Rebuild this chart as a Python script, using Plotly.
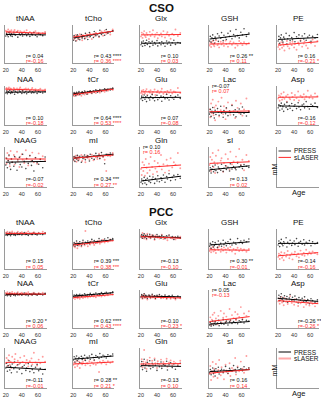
import plotly.graph_objects as go

W, H = 321, 400
FONT = "Liberation Sans, Arial, sans-serif"

AGES = [20, 21, 22, 23, 24, 25, 26, 27, 28, 30, 31, 32, 34, 35, 37, 38,
        40, 41, 43, 45, 46, 48, 50, 52, 53, 55, 57, 59, 61, 63, 66, 69]

NAMES = ["tNAA", "tCho", "Glx", "GSH", "PE",
         "NAA", "tCr", "Glu", "Lac", "Asp",
         "NAAG", "mI", "Gln", "sI"]

# ---------------- CSO (values in % of panel height) ----------------
CSO_TNAA_P = [71, 78, 74, 69, 80, 76, 72, 77, 70, 79, 75, 73, 81, 68, 76, 74, 78, 71, 75, 79, 72, 77, 70, 76, 74, 80, 73, 69, 77, 75, 72, 78]
CSO_TNAA_S = [85, 79, 83, 88, 80, 84, 81, 86, 78, 83, 87, 80, 82, 85, 79, 84, 81, 77, 83, 80, 86, 78, 82, 79, 76, 81, 84, 77, 80, 75, 79, 82]
CSO_TCHO_P = [60, 72, 65, 58, 70, 74, 63, 68, 61, 75, 66, 71, 64, 78, 69, 62, 80, 70, 74, 67, 83, 72, 77, 70, 86, 75, 80, 73, 88, 78, 82, 85]
CSO_TCHO_S = [70, 62, 68, 74, 59, 66, 71, 64, 76, 67, 60, 73, 69, 65, 75, 72, 68, 78, 63, 76, 71, 80, 74, 68, 79, 83, 72, 85, 77, 81, 75, 88]
CSO_GLX_P = [48, 55, 44, 58, 51, 46, 53, 60, 49, 56, 43, 52, 57, 47, 54, 50, 59, 45, 53, 48, 56, 51, 44, 58, 50, 55, 47, 53, 60, 49, 54, 52]
CSO_GLX_S = [70, 80, 66, 77, 84, 72, 68, 79, 74, 63, 82, 71, 76, 86, 69, 75, 80, 65, 73, 78, 70, 84, 67, 76, 81, 72, 64, 77, 74, 88, 71, 79]
CSO_GSH_P = [58, 70, 55, 66, 74, 60, 52, 68, 63, 77, 57, 71, 65, 80, 59, 73, 67, 62, 78, 70, 84, 64, 75, 69, 88, 72, 66, 81, 74, 90, 70, 79]
CSO_GSH_S = [46, 55, 42, 52, 58, 48, 44, 53, 60, 47, 51, 41, 56, 49, 54, 45, 59, 50, 43, 52, 57, 48, 54, 40, 51, 46, 58, 53, 47, 55, 49, 52]
CSO_PE_P = [58, 70, 52, 66, 74, 60, 55, 68, 63, 78, 50, 64, 72, 59, 67, 61, 80, 56, 69, 65, 74, 58, 71, 63, 77, 60, 68, 73, 57, 70, 66, 75]
CSO_PE_S = [42, 50, 36, 47, 55, 40, 52, 45, 33, 49, 58, 44, 38, 53, 47, 56, 41, 50, 35, 54, 48, 60, 43, 51, 57, 46, 39, 55, 52, 62, 45, 58]
CSO_NAA_P = [82, 87, 80, 86, 84, 89, 81, 85, 83, 88, 79, 86, 84, 82, 87, 85, 81, 88, 83, 86, 80, 84, 87, 82, 85, 83, 88, 81, 86, 84, 82, 85]
CSO_NAA_S = [92, 95, 89, 93, 96, 90, 94, 91, 88, 95, 92, 90, 94, 89, 93, 96, 91, 88, 92, 94, 90, 93, 87, 91, 95, 89, 92, 88, 90, 93, 87, 91]
CSO_TCR_P = [77, 83, 80, 75, 84, 79, 82, 86, 78, 81, 85, 80, 87, 83, 79, 86, 84, 88, 82, 87, 85, 90, 84, 88, 91, 86, 89, 93, 88, 92, 90, 95]
CSO_TCR_S = [80, 74, 78, 82, 76, 80, 77, 83, 79, 75, 84, 81, 78, 85, 82, 80, 86, 83, 81, 87, 84, 82, 88, 86, 83, 89, 87, 85, 91, 88, 93, 90]
CSO_GLU_P = [67, 74, 63, 71, 77, 66, 72, 60, 75, 69, 64, 73, 78, 68, 62, 71, 76, 65, 70, 74, 61, 72, 67, 79, 69, 64, 75, 70, 66, 73, 77, 68]
CSO_GLU_S = [82, 88, 79, 90, 85, 81, 87, 92, 78, 86, 83, 89, 80, 85, 91, 77, 84, 88, 82, 86, 93, 80, 85, 79, 87, 83, 90, 81, 86, 84, 95, 82]
CSO_LAC_P = [28, 40, 22, 35, 45, 30, 18, 38, 27, 42, 33, 25, 48, 31, 20, 37, 29, 44, 24, 36, 32, 50, 26, 39, 21, 34, 41, 28, 46, 30, 23, 35]
CSO_LAC_S = [40, 20, 55, 30, 65, 25, 45, 12, 50, 35, 60, 22, 38, 70, 28, 48, 15, 42, 58, 32, 26, 52, 36, 18, 62, 44, 30, 55, 24, 40, 68, 34]
CSO_ASP_P = [44, 52, 38, 49, 56, 41, 47, 35, 53, 45, 58, 40, 50, 43, 55, 37, 48, 52, 42, 57, 46, 39, 51, 54, 44, 60, 47, 41, 53, 49, 56, 45]
CSO_ASP_S = [68, 76, 62, 73, 80, 65, 71, 84, 67, 74, 60, 78, 70, 66, 82, 72, 64, 77, 69, 86, 63, 75, 71, 79, 66, 73, 88, 70, 76, 68, 81, 74]
CSO_NAAG_P = [55, 72, 48, 66, 80, 58, 44, 70, 62, 52, 76, 60, 42, 68, 74, 56, 50, 82, 64, 46, 71, 59, 78, 54, 66, 40, 73, 61, 57, 69, 48, 75]
CSO_NAAG_S = [72, 58, 85, 66, 78, 52, 90, 70, 62, 80, 56, 74, 88, 64, 50, 76, 82, 68, 60, 92, 71, 54, 79, 66, 86, 62, 73, 58, 84, 70, 77, 65]
CSO_MI_P = [68, 76, 64, 74, 70, 79, 66, 73, 77, 62, 75, 71, 80, 68, 74, 78, 65, 82, 72, 77, 69, 84, 75, 80, 71, 86, 76, 58, 82, 78, 85, 80]
CSO_MI_S = [75, 66, 72, 78, 63, 70, 76, 68, 74, 80, 65, 77, 71, 62, 79, 73, 69, 76, 81, 67, 78, 74, 70, 83, 72, 79, 75, 68, 40, 82, 77, 85]
CSO_GLN_P = [12, 20, 8, 16, 24, 10, 18, 6, 22, 14, 27, 11, 19, 25, 9, 21, 15, 28, 13, 23, 17, 30, 12, 26, 20, 33, 16, 24, 29, 18, 31, 22]
CSO_GLN_S = [45, 30, 62, 40, 55, 28, 70, 48, 35, 58, 42, 75, 50, 32, 65, 46, 38, 60, 52, 80, 44, 57, 36, 68, 54, 41, 72, 49, 62, 56, 85, 47]
CSO_SI_P = [40, 48, 35, 45, 52, 38, 43, 55, 41, 36, 50, 46, 42, 57, 39, 47, 53, 44, 49, 40, 58, 45, 51, 47, 43, 60, 50, 54, 46, 56, 52, 49]
CSO_SI_S = [55, 75, 40, 68, 85, 50, 62, 35, 78, 58, 92, 45, 66, 72, 38, 60, 82, 52, 70, 44, 88, 57, 64, 48, 76, 62, 95, 55, 68, 42, 80, 65]

# fitted lines: value at age 20 and at age 70
CSO_LINE_P = [(75, 74), (66, 84), (52, 53), (63, 76), (62, 67), (84, 85), (80, 93), (70, 71), (33, 32), (49, 47), (62, 64), (72, 82), (15, 27), (43, 53)]
CSO_LINE_S = [(82, 78), (68, 84), (74, 75), (50, 51), (47, 56), (92, 89), (78, 92), (85, 84), (34, 36), (71, 72), (70, 70), (72, 80), (48, 55), (59, 63)]

CSO_R_P = [" 0.04", " 0.43", " 0.10", " 0.26", " 0.16", " 0.10", " 0.64", " 0.07", "-0.07", "-0.16", "-0.07", " 0.34", " 0.10", " 0.13"]
CSO_STAR_P = ["", "****", "", "**", "", "", "****", "", "", "", "", "***", "", ""]
CSO_R_S = ["-0.16", " 0.36", " 0.03", " 0.11", "-0.21", "-0.18", " 0.53", "-0.08", " 0.07", "-0.12", "-0.02", " 0.27", " 0.16", " 0.02"]
CSO_STAR_S = ["", "****", "", "", "*", "", "****", "", "", "", "", "**", "", ""]

# ---------------- PCC ----------------
PCC_TNAA_P = [85, 89, 84, 88, 86, 90, 83, 87, 89, 85, 88, 84, 90, 86, 87, 89, 85, 88, 91, 86, 87, 84, 89, 88, 86, 90, 87, 85, 89, 88, 86, 90]
PCC_TNAA_S = [91, 87, 93, 89, 88, 92, 86, 90, 94, 88, 91, 87, 89, 93, 86, 90, 92, 88, 87, 91, 89, 94, 88, 86, 90, 92, 89, 87, 91, 88, 93, 90]
PCC_TCHO_P = [60, 66, 57, 63, 70, 59, 64, 61, 68, 58, 65, 72, 62, 67, 64, 70, 63, 68, 74, 66, 71, 65, 69, 76, 68, 72, 70, 75, 71, 78, 73, 76]
PCC_TCHO_S = [57, 63, 54, 60, 66, 52, 62, 58, 64, 56, 61, 67, 59, 95, 63, 57, 66, 61, 69, 64, 60, 68, 65, 71, 63, 67, 73, 66, 70, 68, 74, 71]
PCC_GLX_P = [80, 86, 77, 84, 88, 79, 83, 76, 85, 81, 87, 78, 82, 84, 75, 80, 86, 79, 82, 77, 84, 80, 76, 83, 79, 85, 78, 81, 74, 80, 82, 77]
PCC_GLX_S = [84, 78, 90, 80, 76, 86, 82, 74, 88, 79, 83, 77, 85, 81, 73, 84, 79, 82, 76, 80, 86, 75, 81, 78, 72, 83, 79, 76, 80, 74, 78, 81]
PCC_GSH_P = [57, 64, 52, 61, 68, 55, 59, 66, 62, 54, 70, 60, 64, 57, 72, 61, 66, 58, 68, 63, 74, 60, 67, 65, 62, 76, 66, 70, 64, 72, 68, 75]
PCC_GSH_S = [45, 52, 42, 49, 55, 44, 50, 47, 40, 53, 48, 56, 43, 51, 46, 54, 49, 41, 52, 47, 55, 44, 50, 38, 48, 53, 45, 51, 46, 49, 43, 50]
PCC_PE_P = [60, 70, 56, 66, 74, 62, 58, 68, 64, 78, 55, 67, 63, 72, 59, 65, 70, 61, 76, 57, 66, 69, 62, 73, 60, 67, 64, 71, 58, 68, 63, 66]
PCC_PE_S = [30, 38, 25, 35, 42, 28, 33, 22, 40, 31, 36, 45, 27, 34, 39, 24, 37, 43, 32, 38, 29, 46, 35, 40, 33, 48, 36, 42, 38, 44, 40, 37]
PCC_NAA_P = [86, 90, 85, 89, 87, 91, 84, 88, 90, 86, 89, 85, 91, 87, 88, 90, 86, 89, 92, 87, 88, 85, 90, 89, 87, 91, 88, 86, 90, 89, 87, 91]
PCC_NAA_S = [92, 88, 94, 90, 89, 93, 87, 91, 95, 89, 92, 88, 90, 94, 87, 91, 93, 89, 88, 92, 90, 94, 89, 87, 91, 93, 90, 88, 92, 89, 93, 90]
PCC_TCR_P = [83, 87, 81, 85, 88, 82, 86, 84, 89, 83, 87, 85, 90, 86, 84, 88, 87, 91, 85, 89, 88, 92, 87, 90, 89, 93, 88, 91, 94, 90, 92, 95]
PCC_TCR_S = [79, 82, 76, 81, 84, 78, 80, 83, 77, 82, 85, 79, 83, 81, 86, 80, 84, 82, 87, 83, 85, 81, 86, 84, 88, 83, 87, 85, 89, 86, 90, 88]
PCC_GLU_P = [82, 88, 79, 85, 90, 81, 86, 83, 78, 87, 84, 80, 89, 82, 85, 78, 86, 83, 88, 80, 84, 81, 87, 79, 83, 85, 80, 86, 82, 78, 84, 81]
PCC_GLU_S = [80, 86, 77, 83, 88, 79, 84, 81, 75, 85, 82, 78, 86, 80, 83, 76, 84, 81, 85, 78, 82, 79, 84, 76, 80, 83, 77, 82, 79, 75, 81, 78]
PCC_LAC_P = [8, 14, 5, 11, 18, 7, 12, 16, 9, 13, 20, 6, 15, 11, 22, 10, 14, 18, 8, 16, 21, 12, 17, 14, 24, 11, 19, 16, 22, 13, 20, 18]
PCC_LAC_S = [15, 28, 8, 22, 35, 12, 40, 18, 25, 10, 32, 20, 45, 14, 27, 38, 16, 30, 22, 50, 19, 34, 26, 42, 21, 36, 29, 55, 24, 38, 32, 44]
PCC_ASP_P = [78, 86, 72, 82, 90, 75, 80, 70, 85, 77, 83, 68, 79, 88, 74, 81, 71, 84, 76, 66, 80, 73, 78, 69, 82, 70, 75, 64, 77, 72, 68, 74]
PCC_ASP_S = [70, 78, 64, 74, 82, 67, 72, 60, 79, 69, 75, 63, 71, 84, 66, 73, 61, 76, 68, 58, 72, 65, 70, 55, 74, 62, 67, 59, 69, 64, 57, 66]
PCC_NAAG_P = [50, 62, 42, 56, 68, 45, 54, 38, 60, 48, 65, 52, 40, 58, 47, 63, 36, 53, 57, 44, 50, 61, 41, 55, 46, 38, 52, 59, 43, 49, 35, 47]
PCC_NAAG_S = [62, 75, 55, 70, 82, 58, 66, 50, 78, 63, 72, 85, 57, 68, 60, 76, 52, 65, 80, 61, 70, 54, 67, 74, 59, 88, 64, 56, 71, 62, 78, 66]
PCC_MI_P = [70, 78, 65, 74, 80, 68, 73, 76, 63, 79, 71, 75, 82, 69, 77, 74, 80, 72, 84, 76, 70, 81, 78, 74, 86, 77, 82, 79, 75, 83, 80, 85]
PCC_MI_S = [58, 64, 52, 62, 68, 55, 60, 66, 50, 63, 59, 65, 70, 57, 62, 61, 67, 56, 64, 60, 69, 58, 63, 40, 66, 61, 68, 64, 59, 67, 63, 66]
PCC_GLN_P = [54, 66, 46, 60, 72, 50, 58, 42, 64, 55, 68, 48, 62, 52, 70, 57, 44, 61, 53, 65, 49, 59, 56, 67, 45, 58, 63, 51, 60, 47, 55, 62]
PCC_GLN_S = [60, 72, 52, 66, 95, 56, 64, 48, 70, 61, 76, 54, 68, 58, 74, 62, 50, 67, 59, 71, 55, 65, 60, 73, 53, 64, 69, 57, 66, 62, 58, 68]
PCC_SI_P = [38, 46, 33, 42, 50, 36, 44, 30, 48, 40, 52, 35, 43, 47, 38, 45, 54, 41, 37, 49, 44, 42, 56, 46, 40, 51, 45, 48, 43, 53, 47, 50]
PCC_SI_S = [35, 55, 20, 42, 65, 28, 48, 38, 60, 25, 45, 70, 32, 52, 40, 22, 58, 44, 36, 62, 30, 50, 46, 75, 34, 54, 42, 66, 48, 38, 80, 50]

PCC_LINE_P = [(87, 88), (62, 73), (82, 78), (60, 68), (64, 64), (88, 89), (84, 93), (84, 82), (10, 17), (78, 70), (52, 46), (72, 80), (56, 54), (41, 46)]
PCC_LINE_S = [(89, 89), (60, 71), (81, 77), (48, 47), (33, 41), (90, 89), (80, 88), (82, 79), (17, 30), (72, 64), (64, 64), (60, 65), (60, 61), (37, 46)]

PCC_R_P = [" 0.15", " 0.39", "-0.13", " 0.30", "-0.14", " 0.20", " 0.62", "-0.10", " 0.05", "-0.26", "-0.11", " 0.28", "-0.13", " 0.16"]
PCC_STAR_P = ["", "***", "", "**", "", "*", "****", "", "", "**", "", "**", "", ""]
PCC_R_S = [" 0.05", " 0.38", "-0.10", "-0.01", "-0.16", " 0.06", " 0.43", "-0.23", "-0.13", "-0.26", "-0.01", " 0.21", " 0.10", " 0.14"]
PCC_STAR_S = ["", "***", "", "", "", "", "****", "*", "", "*", "", "*", "", ""]

CSO_P = [CSO_TNAA_P, CSO_TCHO_P, CSO_GLX_P, CSO_GSH_P, CSO_PE_P, CSO_NAA_P, CSO_TCR_P,
         CSO_GLU_P, CSO_LAC_P, CSO_ASP_P, CSO_NAAG_P, CSO_MI_P, CSO_GLN_P, CSO_SI_P]
CSO_S = [CSO_TNAA_S, CSO_TCHO_S, CSO_GLX_S, CSO_GSH_S, CSO_PE_S, CSO_NAA_S, CSO_TCR_S,
         CSO_GLU_S, CSO_LAC_S, CSO_ASP_S, CSO_NAAG_S, CSO_MI_S, CSO_GLN_S, CSO_SI_S]
PCC_P = [PCC_TNAA_P, PCC_TCHO_P, PCC_GLX_P, PCC_GSH_P, PCC_PE_P, PCC_NAA_P, PCC_TCR_P,
         PCC_GLU_P, PCC_LAC_P, PCC_ASP_P, PCC_NAAG_P, PCC_MI_P, PCC_GLN_P, PCC_SI_P]
PCC_S = [PCC_TNAA_S, PCC_TCHO_S, PCC_GLX_S, PCC_GSH_S, PCC_PE_S, PCC_NAA_S, PCC_TCR_S,
         PCC_GLU_S, PCC_LAC_S, PCC_ASP_S, PCC_NAAG_S, PCC_MI_S, PCC_GLN_S, PCC_SI_S]

CSO_TOPLEFT = {"Lac", "Gln"}
PCC_TOPLEFT = {"Lac"}

# ---------------- layout geometry (pixels) ----------------
COL_LEFT = [3, 71, 139, 208, 277]
PW = 42
CSO_ROWS = [(25, 63), (86, 125), (147, 187)]
PCC_ROWS = [(229, 269), (290, 328), (348, 388)]

BLACK_PT = "rgba(40,40,40,0.85)"
RED_PT = "rgba(255,90,90,0.6)"
RED_LINE = "#ff2a2a"
AXIS_COL = "#9a9a9a"

fig = go.Figure()
layout = {}
annotations = []
counter = [0]


def px_x(x):
    return x / W


def px_y(y):
    return 1 - y / H


def new_axes(left, top, bottom, xr, yr, ticks):
    counter[0] += 1
    i = counter[0]
    sfx = "" if i == 1 else str(i)
    layout["xaxis" + sfx] = dict(
        domain=[px_x(left), px_x(left + PW)], range=xr, anchor="y" + sfx,
        showline=True, linecolor=AXIS_COL, linewidth=1.3, showgrid=False,
        zeroline=False, ticks="", fixedrange=True,
        tickvals=ticks if ticks else [], showticklabels=bool(ticks),
        tickfont=dict(size=5.5, color="#333", family=FONT), ticklabelstandoff=1)
    layout["yaxis" + sfx] = dict(
        domain=[px_y(bottom), px_y(top)], range=yr, anchor="x" + sfx,
        showline=True, linecolor=AXIS_COL, linewidth=1.3, showgrid=False,
        zeroline=False, ticks="", showticklabels=False, fixedrange=True)
    return "x" + sfx, "y" + sfx


def draw_region(rows, p_list, s_list, lp, ls, rp, stp, rs, sts, topleft):
    for k, name in enumerate(NAMES):
        r, c = divmod(k, 5)
        top, bottom = rows[r]
        left = COL_LEFT[c]
        xa, ya = new_axes(left, top, bottom, [19, 71], [0, 100], [20, 40, 60])
        fig.add_trace(go.Scatter(x=AGES, y=s_list[k], mode="markers", xaxis=xa, yaxis=ya,
                                 marker=dict(size=1.9, color=RED_PT), showlegend=False))
        fig.add_trace(go.Scatter(x=AGES, y=p_list[k], mode="markers", xaxis=xa, yaxis=ya,
                                 marker=dict(size=1.6, color=BLACK_PT), showlegend=False))
        fig.add_trace(go.Scatter(x=[20, 70], y=list(lp[k]), mode="lines", xaxis=xa, yaxis=ya,
                                 line=dict(color="black", width=1), showlegend=False))
        fig.add_trace(go.Scatter(x=[20, 70], y=list(ls[k]), mode="lines", xaxis=xa, yaxis=ya,
                                 line=dict(color=RED_LINE, width=1), showlegend=False))
        annotations.append(dict(text=name, xref="paper", yref="paper",
                                x=px_x(left + PW / 2), y=px_y(top - 6.5), showarrow=False,
                                xanchor="center", yanchor="middle",
                                font=dict(size=8, color="#111", family=FONT)))
        if name in topleft:
            xpos, y1, y2 = 0.02, 1.0, 0.88
        else:
            xpos, y1, y2 = 0.46, 0.19, 0.06
        t1 = "r=" + rp[k] + ((" " + stp[k]) if stp[k] else "")
        t2 = "r=" + rs[k] + ((" " + sts[k]) if sts[k] else "")
        for txt, yy, col in ((t1, y1, "#111"), (t2, y2, "#ff3030")):
            annotations.append(dict(text=txt, xref=xa + " domain", yref=ya + " domain",
                                    x=xpos, y=yy, showarrow=False, xanchor="left",
                                    yanchor="middle",
                                    font=dict(size=5.5, color=col, family=FONT)))


def draw_legend(rows, press_style, slaser_style):
    top, bottom = rows[2]
    left = COL_LEFT[4]
    xa, ya = new_axes(left, top, bottom, [0, 1], [0, 1], None)
    fig.add_trace(go.Scatter(x=[0.03, 0.33], y=[0.9, 0.9], mode="lines", xaxis=xa, yaxis=ya,
                             line=press_style, showlegend=False))
    fig.add_trace(go.Scatter(x=[0.03, 0.33], y=[0.74, 0.74], mode="lines", xaxis=xa, yaxis=ya,
                             line=slaser_style, showlegend=False))
    for txt, yy in (("PRESS", 0.9), ("sLASER", 0.74)):
        annotations.append(dict(text=txt, xref=xa + " domain", yref=ya + " domain",
                                x=0.36, y=yy, showarrow=False, xanchor="left", yanchor="middle",
                                font=dict(size=6.5, color="#111", family=FONT)))
    annotations.append(dict(text="mM", xref="paper", yref="paper",
                            x=px_x(left - 3), y=px_y((top + bottom) / 2 + 2), showarrow=False,
                            textangle=-90, xanchor="center", yanchor="middle",
                            font=dict(size=7, color="#111", family=FONT)))
    annotations.append(dict(text="Age", xref="paper", yref="paper",
                            x=px_x(left + PW / 2), y=px_y(bottom + 5), showarrow=False,
                            xanchor="center", yanchor="middle",
                            font=dict(size=7.5, color="#111", family=FONT)))


draw_region(CSO_ROWS, CSO_P, CSO_S, CSO_LINE_P, CSO_LINE_S,
            CSO_R_P, CSO_STAR_P, CSO_R_S, CSO_STAR_S, CSO_TOPLEFT)
draw_legend(CSO_ROWS, dict(color="#999999", width=2), dict(color=RED_LINE, width=1))
draw_region(PCC_ROWS, PCC_P, PCC_S, PCC_LINE_P, PCC_LINE_S,
            PCC_R_P, PCC_STAR_P, PCC_R_S, PCC_STAR_S, PCC_TOPLEFT)
draw_legend(PCC_ROWS, dict(color="black", width=1), dict(color="#ffaaaa", width=2))

for txt, y in (("CSO", 8), ("PCC", 212)):
    annotations.append(dict(text="<b>" + txt + "</b>", xref="paper", yref="paper",
                            x=px_x(160), y=px_y(y), showarrow=False,
                            xanchor="center", yanchor="middle",
                            font=dict(size=11.5, color="#111", family=FONT)))

fig.update_layout(**layout)
fig.update_layout(width=W, height=H, margin=dict(l=0, r=0, t=0, b=0),
                  paper_bgcolor="white", plot_bgcolor="white",
                  annotations=annotations, showlegend=False,
                  font=dict(family=FONT))
fig.write_html("out.html", config={"displayModeBar": False},
               post_script="document.body.style.margin='0px';document.body.style.overflow='hidden';")
